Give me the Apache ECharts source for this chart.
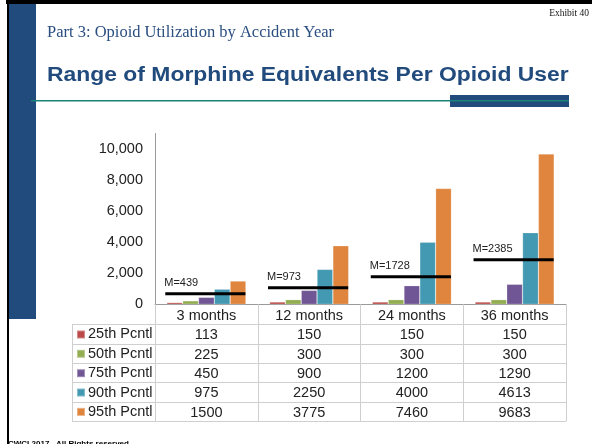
<!DOCTYPE html>
<html>
<head>
<meta charset="utf-8">
<script src="https://cdn.jsdelivr.net/npm/echarts@6/dist/echarts.min.js"></script>
<style>
  html, body { margin: 0; padding: 0; background: #fff; }
  #main { width: 592px; height: 444px; }
</style>
</head>
<body>
<div id="main"></div>
<script>
// data
var periods = ["3 months", "12 months", "24 months", "36 months"];
var pctNames = ["25th Pcntl", "50th Pcntl", "75th Pcntl", "90th Pcntl", "95th Pcntl"];
var p25 = [113, 150, 150, 150];
var p50 = [225, 300, 300, 300];
var p75 = [450, 900, 1200, 1290];
var p90 = [975, 2250, 4000, 4613];
var p95 = [1500, 3775, 7460, 9683];
var medians = [439, 973, 1728, 2385];
// height where the hand drawn median marker sits on the slide
var medianLineLevels = [680, 1070, 1780, 2870];

var pctValues = [p25, p50, p75, p90, p95];
var colors = ["#bb4b48", "#93ad53", "#715695", "#4399b2", "#df853e"];

var FONT = '"Liberation Sans", Arial, Helvetica, sans-serif';
var SERIF = '"Liberation Serif", "Times New Roman", serif';
var BLUE = "#214a7d";

var myChart = echarts.init(document.getElementById("main"));

// table grid geometry (below the axis)
var tableLeft = 72, plotLeft = 155, plotRight = 566;
var rowTop = 324.3, rowH = 19.35;

var graphics = [
  // slide frame
  { type: "rect", shape: { x: 6, y: 0, width: 586, height: 4 }, style: { fill: "#000" } },
  { type: "rect", shape: { x: 7, y: 0, width: 2, height: 444 }, style: { fill: "#000" } },
  { type: "rect", shape: { x: 9, y: 4, width: 27, height: 315 }, style: { fill: BLUE } },
  { type: "rect", shape: { x: 450, y: 95, width: 119, height: 12 }, style: { fill: BLUE } },
  { type: "rect", shape: { x: 31, y: 100, width: 538, height: 1.5 }, style: { fill: "#1a8378" } },
  {
    type: "text", x: 589, y: 13,
    style: { text: "Exhibit 40", font: "9.5px " + SERIF, fill: "#111", align: "right", verticalAlign: "middle" }
  },
  {
    type: "text", x: 47, y: 33,
    style: { text: "Part 3: Opioid Utilization by Accident Year", font: "16.5px " + SERIF, fill: "#2a4e80", verticalAlign: "middle" }
  },
  {
    type: "text", x: 47, y: 75.5, scaleX: 1.145,
    style: { text: "Range of Morphine Equivalents Per Opioid User", font: "bold 20px " + FONT, fill: BLUE, verticalAlign: "middle" }
  },
  {
    type: "text", x: 8, y: 440,
    style: { text: "CWCI 2017.  All Rights reserved", font: "bold 8px " + FONT, fill: "#000", verticalAlign: "top" }
  },
  // table left border
  { type: "line", shape: { x1: tableLeft + 0.5, y1: rowTop, x2: tableLeft + 0.5, y2: rowTop + rowH * pctNames.length }, style: { stroke: "#cfcfcf", lineWidth: 1 } }
];
for (var r = 0; r <= pctNames.length; r++) {
  var yy = Math.round(rowTop + r * rowH) + 0.5;
  graphics.push({
    type: "line",
    shape: { x1: tableLeft, y1: yy, x2: plotRight, y2: yy },
    style: { stroke: "#cfcfcf", lineWidth: 1 }
  });
}

var series = pctNames.map(function (name, i) {
  return {
    name: name,
    type: "bar",
    barGap: "0%",
    barCategoryGap: "23%",
    data: pctValues[i],
    itemStyle: { color: colors[i], borderColor: "rgba(255,255,255,0.35)", borderWidth: 0.6 },
    silent: true
  };
});

series.push({
  type: "custom",
  z: 10,
  silent: true,
  encode: { x: 0, y: 1 },
  data: periods.map(function (p, i) { return [i, medianLineLevels[i], medians[i]]; }),
  renderItem: function (params, api) {
    var pt = api.coord([api.value(0), api.value(1)]);
    var bw = api.size([1, 0])[0];
    var x0 = pt[0] - bw * 0.4;
    var x1 = pt[0] + bw * 0.38;
    return {
      type: "group",
      children: [
        { type: "line", shape: { x1: x0, y1: pt[1], x2: x1, y2: pt[1] }, style: { stroke: "#000", lineWidth: 3 } },
        {
          type: "text", x: x0 - 1, y: pt[1] - 11,
          style: { text: "M=" + api.value(2), font: "11px " + FONT, fill: "#222", align: "left", verticalAlign: "middle" }
        }
      ]
    };
  }
});

var option = {
  animation: false,
  backgroundColor: "#fff",
  grid: { left: plotLeft, right: 592 - plotRight, top: 133.5, bottom: 139.7 },
  legend: {
    data: pctNames,
    orient: "vertical",
    left: 76,
    top: rowTop + 0.5,
    padding: 0,
    itemGap: 0,
    itemWidth: 8,
    itemHeight: 8,
    icon: "rect",
    selectedMode: false,
    textStyle: { fontFamily: FONT, fontSize: 14.5, color: "#222", lineHeight: rowH, padding: [0, 0, 0, -2] }
  },
  xAxis: {
    type: "category",
    data: periods,
    axisLine: { lineStyle: { color: "#9a9a9a", width: 1 } },
    axisTick: { show: true, interval: 0, length: 117, lineStyle: { color: "#cfcfcf" } },
    axisLabel: {
      interval: 0,
      margin: 2,
      fontFamily: FONT,
      fontSize: 14.5,
      color: "#222",
      lineHeight: rowH,
      formatter: function (value, idx) {
        var lines = [value];
        pctValues.forEach(function (arr) { lines.push(String(arr[idx])); });
        return lines.join("\n");
      }
    }
  },
  yAxis: {
    type: "value",
    min: 0,
    max: 11000,
    interval: 1000,
    splitLine: { show: false },
    axisTick: { show: false },
    axisLine: { show: true, lineStyle: { color: "#9a9a9a", width: 1 } },
    axisLabel: {
      margin: 12,
      fontFamily: FONT,
      fontSize: 14.5,
      color: "#222",
      formatter: function (v) {
        return v % 2000 === 0 ? v.toLocaleString("en-US") : "";
      }
    }
  },
  graphic: graphics,
  series: series
};

myChart.setOption(option);
</script>
</body>
</html>
